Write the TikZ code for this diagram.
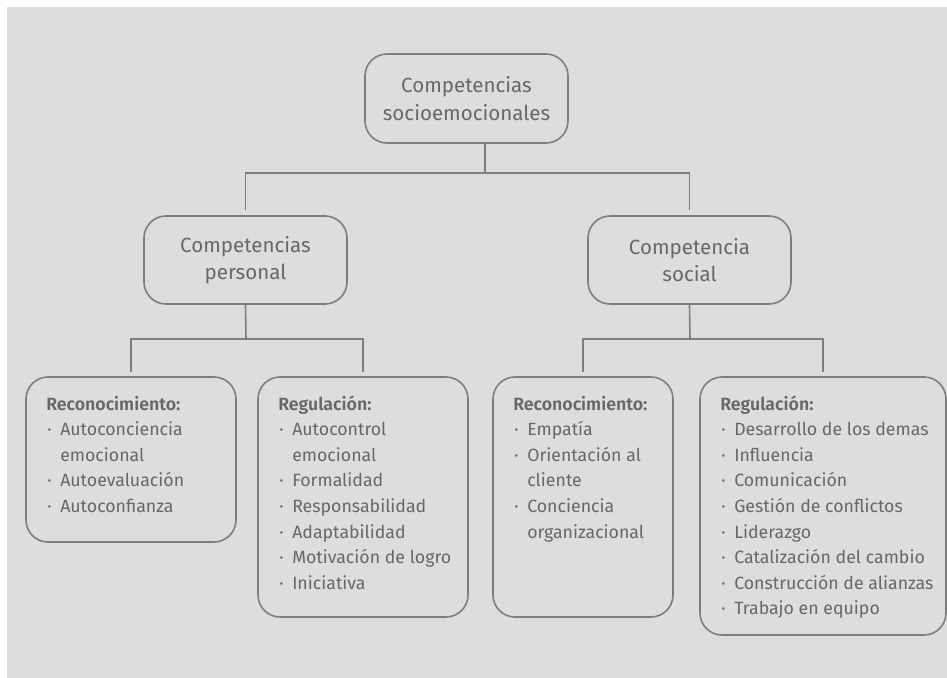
\documentclass[tikz,border=0pt]{standalone}
\usepackage{fontspec}
\setmainfont{Fira Sans}[BoldFont=* SemiBold]
\definecolor{bggray}{HTML}{DCDDDF}
\definecolor{linegray}{HTML}{7E7E7E}
\definecolor{txtgray}{HTML}{676767}
\newcommand\itm[1]{\makebox[10.5pt][l]{\hspace*{0.75pt}·}#1}
\newcommand\cnt[1]{\hspace*{10.5pt}#1}
\begin{document}
\begin{tikzpicture}[x=0.75pt,y=-0.75pt,
  conn/.style={draw=linegray, line width=1.2pt},
  box/.style={draw=linegray, line width=1.2pt, rounded corners=16.5pt, inner sep=0pt},
  head/.style={text=txtgray, align=center, font=\fontsize{15.4}{20.7}\selectfont},
  listtext/.style={text=txtgray, align=left, anchor=north west, inner sep=0pt, font=\fontsize{13.3}{19.2}\selectfont}]
\useasboundingbox (0,0) rectangle (947,678);
\fill[bggray] (7,7) rectangle (947,678);
% boxes
\node[box, minimum width=203*0.75pt, minimum height=89*0.75pt] (top) at (466.5,98.5) {};
\node[head] (toptxt) at (top.center) {Competencias\\socioemocionales};
\node[box, minimum width=203*0.75pt, minimum height=88*0.75pt] (p) at (245.5,260) {};
\node[head] (ptxt) at (p.center) {Competencias\\personal};
\node[box, minimum width=203*0.75pt, minimum height=88*0.75pt] (s) at (689.5,260) {};
\node[head] (stxt) at (s.center) {Competencia\\social};
\node[box, minimum width=210*0.75pt, minimum height=165*0.75pt] (b1) at (131,459.5) {};
\node[box, minimum width=210*0.75pt, minimum height=240*0.75pt] (b2) at (363,497) {};
\node[box, minimum width=180*0.75pt, minimum height=240*0.75pt] (b3) at (583,497) {};
\node[box, minimum width=246*0.75pt, minimum height=258*0.75pt] (b4) at (823,506) {};
% list texts
\node[listtext] (t1) at (46,392) {\strut\textbf{Reconocimiento:}\\
  \itm{Autoconciencia}\\ \cnt{emocional}\\ \itm{Autoevaluación}\\ \itm{Autoconfianza}};
\node[listtext] (t2) at (278,392) {\strut\textbf{Regulación:}\\
  \itm{Autocontrol}\\ \cnt{emocional}\\ \itm{Formalidad}\\ \itm{Responsabilidad}\\
  \itm{Adaptabilidad}\\ \itm{Motivación de logro}\\ \itm{Iniciativa}};
\node[listtext] (t3) at (513,392) {\strut\textbf{Reconocimiento:}\\
  \itm{Empatía}\\ \itm{Orientación al}\\ \cnt{cliente}\\ \itm{Conciencia}\\ \cnt{organizacional}};
\node[listtext] (t4) at (720,392) {\strut\textbf{Regulación:}\\
  \itm{Desarrollo de los demas}\\ \itm{Influencia}\\ \itm{Comunicación}\\
  \itm{Gestión de conflictos}\\ \itm{Liderazgo}\\ \itm{Catalización del cambio}\\
  \itm{Construcción de alianzas}\\ \itm{Trabajo en equipo}};
% connectors
\coordinate (j0) at (485,173);
\coordinate (j1) at (246,339);
\coordinate (j2) at (690,339);
\draw[conn] (top.south -| j0) -- (j0);
\draw[conn, shorten >=3.75pt] (j0) -| (p.north);
\draw[conn, shorten >=3.75pt] (j0) -| (s.north);
\draw[conn] (p.south) -- (j1);
\draw[conn, shorten >=3pt] (j1) -| (b1.north);
\draw[conn, shorten >=3pt] (j1) -| (b2.north);
\draw[conn] (s.south) -- (j2);
\draw[conn, shorten >=3pt] (j2) -| (b3.north);
\draw[conn, shorten >=3pt] (j2) -| (b4.north);
\end{tikzpicture}
\end{document}
